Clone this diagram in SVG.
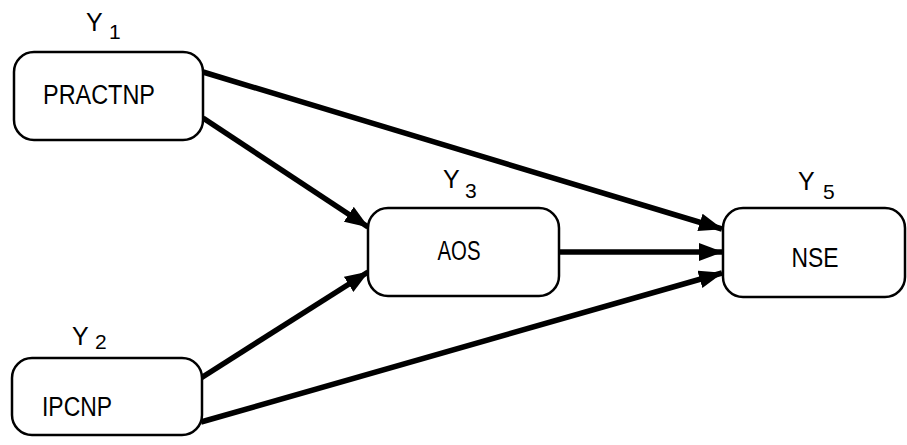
<svg xmlns="http://www.w3.org/2000/svg" width="907" height="445" viewBox="0 0 907 445">
  <style>
    .box { fill: #ffffff; stroke: #000000; stroke-width: 2.5; }
    .lbl { font-family: "Liberation Sans", Arial, sans-serif; font-size: 27px; fill: #000000; text-anchor: middle; }
    .var { font-family: "Liberation Sans", Arial, sans-serif; font-size: 25px; fill: #000000; }
    .sub { font-family: "Liberation Sans", Arial, sans-serif; font-size: 21px; fill: #000000; }
    .edge { stroke: #000000; stroke-width: 5.5; fill: none; marker-end: url(#head); }
  </style>
  <defs>
    <marker id="head" markerUnits="userSpaceOnUse" markerWidth="24" markerHeight="18" refX="23" refY="9" orient="auto">
      <path d="M0,0 L24,9 L0,18 Z" fill="#000000"/>
    </marker>
  </defs>
  <rect width="907" height="445" fill="#ffffff"/>

  <g id="connectors">
    <line class="edge" x1="203" y1="72" x2="722" y2="229"/>
    <line class="edge" x1="203" y1="118" x2="368" y2="227"/>
    <line class="edge" x1="201" y1="378" x2="368" y2="272"/>
    <line class="edge" x1="559" y1="252" x2="722" y2="252"/>
    <line class="edge" x1="201" y1="422" x2="722" y2="273"/>
  </g>

  <g id="practnp">
    <rect class="box" x="14" y="52" width="189" height="88" rx="20" ry="20"/>
    <text class="lbl" x="99" y="104" textLength="112" lengthAdjust="spacingAndGlyphs">PRACTNP</text>
    <text class="var" x="86" y="31">Y</text>
    <text class="sub" x="109" y="39">1</text>
  </g>

  <g id="ipcnp">
    <rect class="box" x="12" y="358" width="190" height="77" rx="20" ry="20"/>
    <text class="lbl" x="77" y="416" textLength="70" lengthAdjust="spacingAndGlyphs">IPCNP</text>
    <text class="var" x="72" y="345">Y</text>
    <text class="sub" x="95" y="349">2</text>
  </g>

  <g id="aos">
    <rect class="box" x="368" y="208" width="191" height="88" rx="20" ry="20"/>
    <text class="lbl" x="459" y="260" textLength="43" lengthAdjust="spacingAndGlyphs">AOS</text>
    <text class="var" x="443" y="188">Y</text>
    <text class="sub" x="465" y="198">3</text>
  </g>

  <g id="nse">
    <rect class="box" x="723" y="208" width="182" height="89" rx="20" ry="20"/>
    <text class="lbl" x="815" y="267" textLength="47" lengthAdjust="spacingAndGlyphs">NSE</text>
    <text class="var" x="798" y="190">Y</text>
    <text class="sub" x="823" y="199">5</text>
  </g>
</svg>
